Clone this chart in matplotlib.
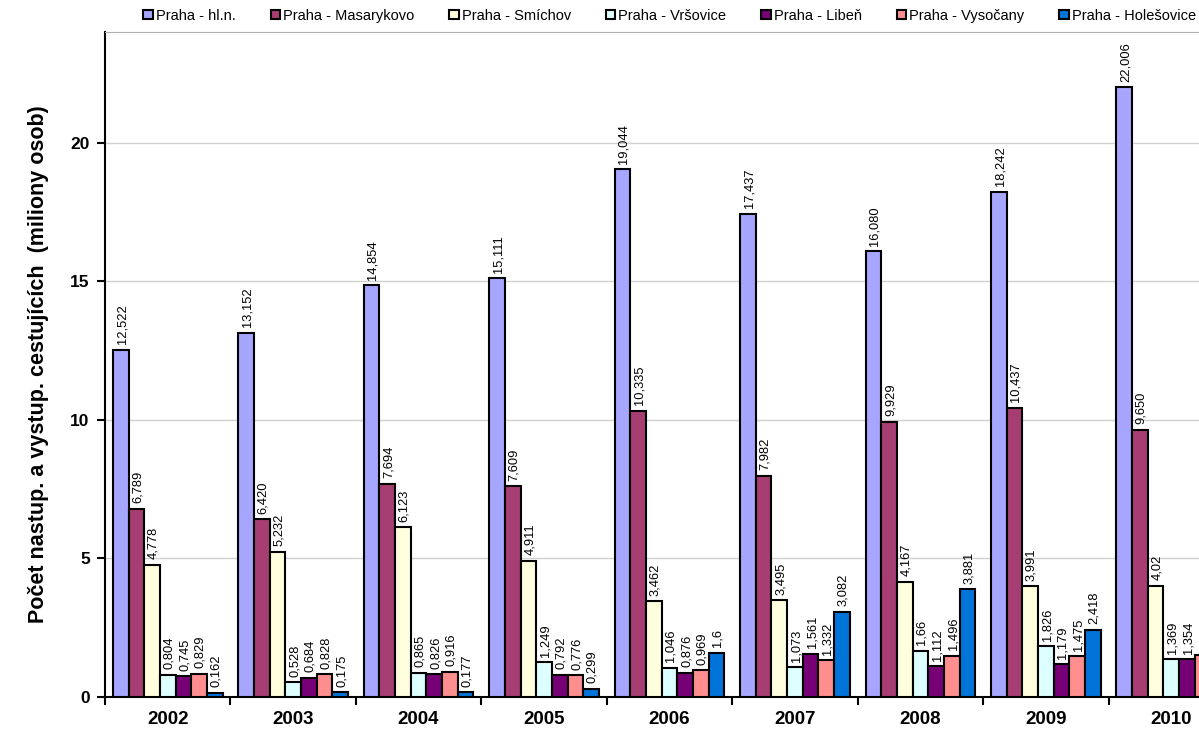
import matplotlib.pyplot as plt
import numpy as np

plt.rcParams['font.family'] = ['Liberation Sans', 'DejaVu Sans']

# years on the x axis
years = ['2002', '2003', '2004', '2005', '2006', '2007', '2008', '2009', '2010']

# series, as labelled on the chart (last 2010 values are partly cut off, estimated)
hlavni = ['12,522', '13,152', '14,854', '15,111', '19,044', '17,437', '16,080', '18,242', '22,006']
masarykovo = ['6,789', '6,420', '7,694', '7,609', '10,335', '7,982', '9,929', '10,437', '9,650']
smichov = ['4,778', '5,232', '6,123', '4,911', '3,462', '3,495', '4,167', '3,991', '4,02']
vrsovice = ['0,804', '0,528', '0,865', '1,249', '1,046', '1,073', '1,66', '1,826', '1,369']
liben = ['0,745', '0,684', '0,826', '0,792', '0,876', '1,561', '1,112', '1,179', '1,354']
vysocany = ['0,829', '0,828', '0,916', '0,776', '0,969', '1,332', '1,496', '1,475', '1,52']
holesovice = ['0,162', '0,175', '0,177', '0,299', '1,6', '3,082', '3,881', '2,418', '2,5']

series = [hlavni, masarykovo, smichov, vrsovice, liben, vysocany, holesovice]
names = ['Praha - hl.n.', 'Praha - Masarykovo', 'Praha - Smíchov', 'Praha - Vršovice',
         'Praha - Libeň', 'Praha - Vysočany', 'Praha - Holešovice']
colors = ['#A6A6FF', '#A63D73', '#FFFFDD', '#DDFFFF', '#770077', '#FF8F8F', '#0074D9']

fig = plt.figure(figsize=(11.99, 7.29), dpi=100)
# plot area continues past the right edge of the picture, like the reference crop
ax = fig.add_axes([105 / 1199, 32 / 729, 1129 / 1199, 665 / 729])

x = np.arange(len(years))
w = 1 / 8
for i, (s, name, c) in enumerate(zip(series, names, colors)):
    vals = [float(v.replace(',', '.')) for v in s]
    pos = x + (i - 3) * w
    ax.bar(pos, vals, width=w, color=c, edgecolor='black', linewidth=1.5,
           label=name, zorder=3)
    for px, v, txt in zip(pos, vals, s):
        ax.annotate(txt, (px, v), xytext=(1, 4), textcoords='offset points',
                    rotation=90, ha='center', va='bottom', fontsize=9.3, zorder=4)

ax.set_xlim(-0.5, len(years) - 0.5)
ax.set_ylim(0, 24)
ax.set_yticks([0, 5, 10, 15, 20])
ax.yaxis.grid(True, color='#d0d0d0', linewidth=1, zorder=0)
ax.set_xticks(x)
ax.set_xticklabels(years, fontsize=13.5, fontweight='bold')
ax.set_xticks(np.arange(len(years) + 1) - 0.5, minor=True)
ax.tick_params(axis='x', which='major', length=0, pad=10)
ax.tick_params(axis='x', which='minor', length=6, width=1.5, direction='out')
ax.tick_params(axis='y', length=6, width=1.5, direction='out', labelsize=12.5, pad=5)
for lab in ax.get_yticklabels():
    lab.set_fontweight('bold')

ax.set_ylabel('Počet nastup. a vystup. cestujících  (miliony osob)',
              fontsize=15.5, fontweight='bold')
ax.yaxis.set_label_coords(-56 / 1129, 0.5)

ax.spines['left'].set_linewidth(1.5)
ax.spines['bottom'].set_linewidth(1.5)
ax.spines['top'].set_color('#b0b0b0')
ax.spines['right'].set_visible(False)

ax.legend(loc='lower center', bbox_to_anchor=(0.5, 1.0), ncol=7, frameon=False,
          fontsize=10.5, handlelength=0.65, handleheight=0.65, handletextpad=0.2,
          columnspacing=2.4, borderaxespad=0.25)

plt.savefig('out.png', dpi=100)
